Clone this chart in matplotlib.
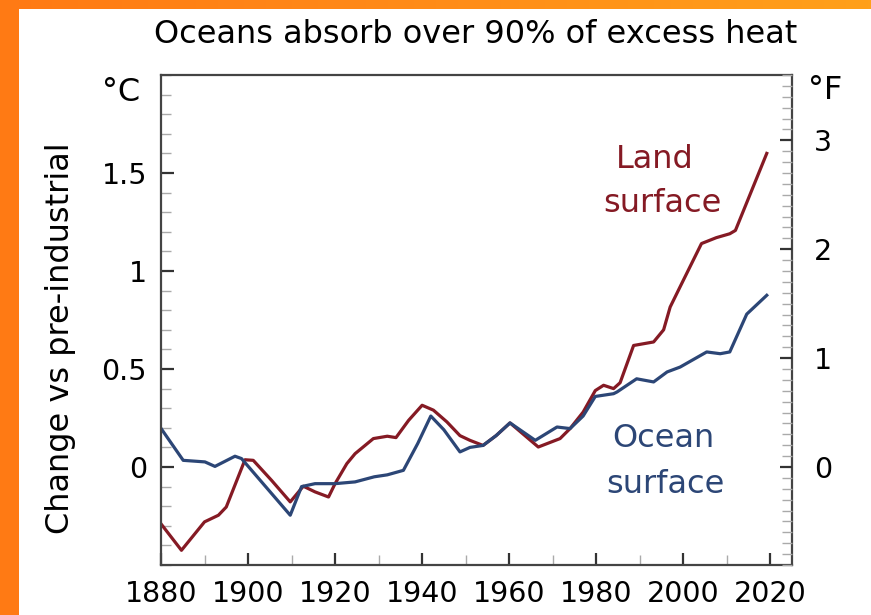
import numpy as np
import matplotlib.pyplot as plt
from matplotlib.patches import Rectangle
from matplotlib.colors import LinearSegmentedColormap
from matplotlib.ticker import MultipleLocator

# Land surface temperature change vs pre-industrial (degC)
land_years = [1880, 1884.7, 1890, 1893.2, 1895, 1899.3, 1901.2, 1905.4, 1909.7,
              1912.7, 1915.4, 1918.5, 1920, 1922.7, 1924.6, 1928.8, 1932, 1934,
              1936.9, 1940, 1942.6, 1945.7, 1948.7, 1951, 1954, 1957, 1960.2,
              1966.7, 1971.7, 1974, 1977, 1979.8, 1981.7, 1984, 1985.5, 1988.6,
              1993.2, 1995.5, 1997, 1999.3, 2004.2, 2007.6, 2010.7, 2012, 2019.2]
land_vals = [-0.29, -0.425, -0.28, -0.246, -0.204, 0.037, 0.034, -0.068, -0.178,
             -0.098, -0.127, -0.153, -0.085, 0.017, 0.068, 0.145, 0.157, 0.15,
             0.238, 0.315, 0.29, 0.23, 0.16, 0.136, 0.11, 0.16, 0.225,
             0.102, 0.145, 0.196, 0.28, 0.39, 0.417, 0.40, 0.43, 0.62,
             0.638, 0.70, 0.816, 0.92, 1.14, 1.17, 1.19, 1.207, 1.60]

# Ocean surface temperature change vs pre-industrial (degC)
ocean_years = [1880, 1885.1, 1890.1, 1892.4, 1897, 1898.5, 1909.7, 1912.3, 1915.4,
               1920, 1924.6, 1929, 1932, 1935.7, 1939, 1942, 1945, 1948.7, 1951,
               1954, 1957, 1960.2, 1966, 1971, 1974, 1977, 1979.8, 1984, 1984.8,
               1989.3, 1993.2, 1996.3, 1999.3, 2005.4, 2008.5, 2010.7, 2014.6,
               2019.2]
ocean_vals = [0.197, 0.034, 0.026, 0.003, 0.055, 0.043, -0.246, -0.10, -0.085,
              -0.085, -0.076, -0.05, -0.04, -0.017, 0.12, 0.26, 0.19, 0.077, 0.10,
              0.11, 0.16, 0.225, 0.136, 0.204, 0.196, 0.26, 0.36, 0.374, 0.383,
              0.45, 0.434, 0.485, 0.51, 0.587, 0.578, 0.587, 0.78,
              0.876]

x_ticks = [1880, 1900, 1920, 1940, 1960, 1980, 2000, 2020]
c_ticks = [0, 0.5, 1, 1.5]
c_labels = ['0', '0.5', '1', '1.5']
f_ticks = [0, 1, 2, 3]

land_color = '#851a24'
ocean_color = '#2c4676'

plt.rcParams['font.family'] = ['DejaVu Sans']

W, H = 871, 615
fig = plt.figure(figsize=(W / 100, H / 100), dpi=100)
fig.patch.set_facecolor('white')

# orange frame: left bar and gradient top strip
fig.patches.append(Rectangle((0, 0), 19 / W, 1, transform=fig.transFigure,
                             facecolor='#ff7a14', edgecolor='none'))
top = fig.add_axes([0, 1 - 9 / H, 1, 9 / H])
orange = LinearSegmentedColormap.from_list('orange', ['#ff7a14', '#ff8c18', '#ffa01a'])
top.imshow(np.linspace(0, 1, 200).reshape(1, -1), cmap=orange, aspect='auto')
top.axis('off')

ax = fig.add_axes([161 / W, 1 - 565 / H, (792 - 161) / W, (565 - 75) / H])
ax.plot(land_years, land_vals, color=land_color, lw=2.3, solid_joinstyle='round')
ax.plot(ocean_years, ocean_vals, color=ocean_color, lw=2.3, solid_joinstyle='round')

ax.set_xlim(1880, 2025)
ax.set_ylim(-0.5, 2.0)
ax.set_xticks(x_ticks)
ax.xaxis.set_minor_locator(MultipleLocator(10))
ax.set_yticks(c_ticks)
ax.set_yticklabels(c_labels)
ax.yaxis.set_minor_locator(MultipleLocator(0.1))
ax.tick_params(axis='both', which='major', direction='in', length=9, width=1.6,
               color='#333333', labelsize=20.5)
ax.tick_params(axis='both', which='minor', direction='in', length=7, width=1,
               color='#aaaaaa')
ax.tick_params(axis='x', which='major', pad=11)
ax.tick_params(axis='y', which='major', pad=10)
for s in ax.spines.values():
    s.set_color('#444444')
    s.set_linewidth(1.6)

# Fahrenheit axis on the right
ax2 = ax.twinx()
ax2.set_ylim(-0.5 * 1.8, 2.0 * 1.8)
ax2.set_yticks(f_ticks)
ax2.yaxis.set_minor_locator(MultipleLocator(0.1))
ax2.tick_params(axis='y', which='major', direction='in', length=9, width=1.6,
                color='#333333', labelsize=20.5, pad=16)
ax2.tick_params(axis='y', which='minor', direction='in', length=7, width=1,
                color='#aaaaaa')
for s in ax2.spines.values():
    s.set_visible(False)

fig.text(61 / W, 1 - 338 / H, 'Change vs pre-industrial', rotation=90,
         ha='center', va='center', fontsize=23)

fig.text(476 / W, 1 - 43 / H, 'Oceans absorb over 90% of excess heat',
         ha='center', va='baseline', fontsize=23)
fig.text(121 / W, 1 - 101 / H, '°C', ha='center', va='baseline', fontsize=23)
fig.text(825 / W, 1 - 99 / H, '°F', ha='center', va='baseline', fontsize=23)

fig.text(655 / W, 1 - 168 / H, 'Land', color=land_color, fontsize=23,
         ha='center', va='baseline')
fig.text(662 / W, 1 - 212 / H, 'surface', color=land_color, fontsize=23,
         ha='center', va='baseline')
fig.text(663 / W, 1 - 447 / H, 'Ocean', color=ocean_color, fontsize=23,
         ha='center', va='baseline')
fig.text(665 / W, 1 - 493 / H, 'surface', color=ocean_color, fontsize=23,
         ha='center', va='baseline')

fig.savefig('out.png', dpi=100, facecolor=fig.get_facecolor())
